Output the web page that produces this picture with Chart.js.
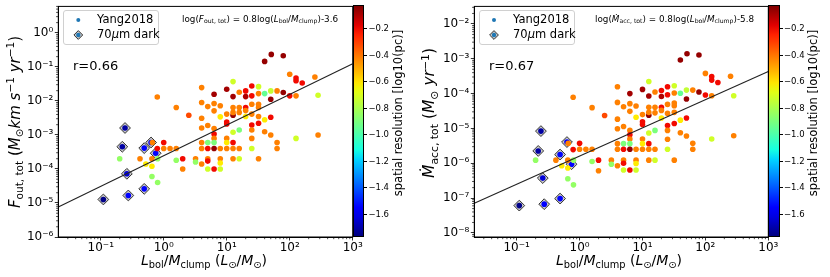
<!DOCTYPE html>
<html>
<head>
<meta charset="utf-8">
<script src="https://cdn.jsdelivr.net/npm/chart.js@4/dist/chart.umd.min.js"></script>
<style>
body { margin: 0; background: #fff; font-family: 'DejaVu Sans', sans-serif; }
#wrap { position: relative; width: 830px; height: 277px; overflow: hidden; }
canvas { position: absolute; top: 0; }
.t { position: absolute; white-space: nowrap; color: #000; line-height: 1; }
.mid { transform: translateY(-50%); }
.ctr { transform: translate(-50%, -50%); }
.rot { transform: translate(-50%, -50%) rotate(-90deg); }
sub { font-size: 0.7em; vertical-align: -0.3em; line-height: 0; }
sup { font-size: 0.7em; vertical-align: 0.5em; line-height: 0; }
.legend { position: absolute; box-sizing: border-box; border: 1px solid #d0d0d0; border-radius: 3px; background: rgba(255,255,255,0.85); }
.cbar { position: absolute; box-sizing: border-box; border: 0.8px solid #000; }
.cbtick { position: absolute; width: 3px; height: 0; border-top: 0.8px solid #000; }
.cblab { position: absolute; font-size: 8.5px; line-height: 1; transform: translateY(-50%); }
svg { position: absolute; left: 0; top: 0; pointer-events: none; }
</style>
</head>
<body>
<div id="wrap">
  <canvas id="left" width="415" height="277" style="left:0;width:415px;height:277px"></canvas>
  <canvas id="right" width="415" height="277" style="left:415px;width:415px;height:277px"></canvas>

  <!-- legends -->
  <div class="legend" style="left:63px;top:10px;width:96px;height:35px"></div>
  <div class="legend" style="left:479px;top:10px;width:96px;height:35px"></div>
  <svg width="830" height="277">
    <circle cx="78.3" cy="20" r="2" fill="#1f77b4"/>
    <polygon points="78.3,30.6 82.7,35 78.3,39.4 73.9,35" fill="#c8c8c8" stroke="#333" stroke-width="1"/>
    <circle cx="78.3" cy="35" r="2.2" fill="#1f77b4"/>
    <circle cx="494" cy="20" r="2" fill="#1f77b4"/>
    <polygon points="494,30.6 498.4,35 494,39.4 489.6,35" fill="#c8c8c8" stroke="#333" stroke-width="1"/>
    <circle cx="494" cy="35" r="2.2" fill="#1f77b4"/>
  </svg>
  <div class="t mid" style="left:97px;top:20px;font-size:11.5px">Yang2018</div>
  <div class="t mid" style="left:97px;top:35px;font-size:11.5px">70<i>μ</i>m dark</div>
  <div class="t mid" style="left:513px;top:20px;font-size:11.5px">Yang2018</div>
  <div class="t mid" style="left:513px;top:35px;font-size:11.5px">70<i>μ</i>m dark</div>

  <!-- fit equations and correlation -->
  <div class="t mid" style="left:182px;top:19px;font-size:8.8px">log(<i>F</i><sub>out, tot</sub>) = 0.8log(<i>L</i><sub>bol</sub>/<i>M</i><sub>clump</sub>)-3.6</div>
  <div class="t mid" style="left:595px;top:19px;font-size:8.8px">log(<i>Ṁ</i><sub>acc, tot</sub>) = 0.8log(<i>L</i><sub>bol</sub>/<i>M</i><sub>clump</sub>)-5.8</div>
  <div class="t mid" style="left:73px;top:65px;font-size:13px">r=0.66</div>
  <div class="t mid" style="left:489px;top:65px;font-size:13px">r=0.67</div>

  <!-- axis titles -->
  <div class="t rot" style="left:15px;top:122px;font-size:15px"><i>F</i><sub>out, tot</sub> (<i>M</i><sub>⊙</sub><i>km s</i><sup>−1</sup> <i>yr</i><sup>−1</sup>)</div>
  <div class="t rot" style="left:430px;top:113px;font-size:15.5px"><i>Ṁ</i><sub>acc, tot</sub> (<i>M</i><sub>⊙</sub> <i>yr</i><sup>−1</sup>)</div>
  <div class="t ctr" style="left:204px;top:260px;font-size:14px"><i>L</i><sub>bol</sub>/<i>M</i><sub>clump</sub> (<i>L</i><sub>⊙</sub>/<i>M</i><sub>⊙</sub>)</div>
  <div class="t ctr" style="left:619px;top:260px;font-size:14px"><i>L</i><sub>bol</sub>/<i>M</i><sub>clump</sub> (<i>L</i><sub>⊙</sub>/<i>M</i><sub>⊙</sub>)</div>
  <div class="t rot" style="left:399px;top:113px;font-size:11.5px">spatial resolution [log10(pc)]</div>
  <div class="t rot" style="left:814px;top:113px;font-size:11.5px">spatial resolution [log10(pc)]</div>
</div>

<script>
// L_bol/M_clump of each clump (shared by both panels)
const lumRatio = [
  51, 79, 40, 100, 126, 126, 158, 251, 282, 100,
  126, 79, 12.6, 15.8, 20, 20, 25, 25, 32, 32,
  40, 50, 63, 50, 10, 6.3, 12.6, 4.0, 0.79, 1.58,
  2.5, 4.0, 6.3, 5.0, 7.9, 6.3, 7.9, 12.6, 15.8, 20,
  20, 25, 32, 32, 32, 10, 12.6, 12.6, 15.8, 20,
  25, 40, 50, 4.0, 10, 10, 25, 32, 5.0, 6.3,
  4.0, 15.8, 12.6, 25, 40, 50, 10, 6.3, 6.3, 12.6,
  5.0, 6.3, 4.0, 10, 25, 126, 282, 63, 63, 25,
  1.0, 0.66, 0.79, 1.0, 1.26, 1.58, 4.0, 5.0, 6.3, 7.9,
  10, 12.6, 15.8, 2.0, 1.58, 3.2, 3.2, 4.0, 5.0, 5.0,
  7.9, 7.9, 12.6, 15.8, 32, 2.0, 5.0, 6.3, 7.9, 0.2,
  0.42, 0.52, 0.65, 0.65, 0.8, 0.65, 0.8
];
// F_out,tot (Msun km/s/yr)
const outflowRate = [
  0.233, 0.213, 0.145, 0.0605, 0.047, 0.039, 0.0337, 0.0506, 0.0147, 0.0141,
  0.0141, 0.0176, 0.0369, 0.018, 0.0197, 0.0134, 0.0275, 0.0141, 0.0263, 0.0164,
  0.0164, 0.0197, 0.0197, 0.0112, 0.022, 0.0157, 0.0134, 0.0246, 0.0131, 0.0064,
  0.0038, 0.009, 0.0084, 0.0068, 0.0072, 0.0051, 0.0034, 0.0064, 0.0064, 0.0064,
  0.0052, 0.008, 0.008, 0.0064, 0.0035, 0.0041, 0.0038, 0.0046, 0.0046, 0.0035,
  0.0041, 0.0028, 0.0033, 0.0031, 0.0024, 0.0021, 0.00195, 0.0022, 0.0019, 0.00155,
  0.0016, 0.0014, 0.0012, 0.0014, 0.00124, 0.001, 0.00079, 0.00106, 0.00079, 0.0006,
  0.0006, 0.0006, 0.0006, 0.0006, 0.00079, 0.00079, 0.001, 0.0006, 0.0004, 0.0004,
  0.0006, 0.0006, 0.0004, 0.0004, 0.0004, 0.0004, 0.0004, 0.0004, 0.0004, 0.0004,
  0.0004, 0.0004, 0.0004, 0.0002, 0.00018, 0.0002, 0.00016, 0.00014, 0.0002, 0.00017,
  0.0002, 0.00015, 0.0002, 0.0002, 0.0002, 0.0001, 0.0001, 0.0001, 0.0001, 0.0002,
  0.0002, 0.00014, 0.0002, 0.00012, 0.0002, 0.00006, 0.00004
];
// Mdot_acc,tot (Msun/yr)
const accretionRate = [
  1.4e-3, 1.28e-3, 9.2e-4, 3.8e-4, 3.1e-4, 2.44e-4, 2.09e-4, 3.16e-4, 8.7e-5, 9.1e-5,
  8.7e-5, 1.11e-4, 2.23e-4, 1.11e-4, 1.23e-4, 8.3e-5, 1.57e-4, 9.3e-5, 1.68e-4, 1.04e-4,
  1.02e-4, 1.26e-4, 1.26e-4, 7.0e-5, 1.32e-4, 1.0e-4, 8.5e-5, 1.57e-4, 7.9e-5, 3.96e-5,
  2.35e-5, 5.6e-5, 5.15e-5, 4.2e-5, 4.4e-5, 3.1e-5, 2.1e-5, 4.05e-5, 4.05e-5, 4.05e-5,
  3.3e-5, 4.9e-5, 5.4e-5, 4.5e-5, 2.9e-5, 2.5e-5, 2.4e-5, 2.9e-5, 2.8e-5, 2.0e-5,
  2.7e-5, 1.73e-5, 2.0e-5, 1.85e-5, 1.55e-5, 1.3e-5, 1.22e-5, 1.39e-5, 1.14e-5, 8.8e-6,
  9.8e-6, 8.8e-6, 7.4e-6, 8.8e-6, 7.5e-6, 6.05e-6, 5.0e-6, 6.6e-6, 5.0e-6, 3.66e-6,
  3.66e-6, 3.66e-6, 3.66e-6, 3.66e-6, 4.9e-6, 5.0e-6, 6.2e-6, 3.74e-6, 2.52e-6, 2.52e-6,
  3.74e-6, 3.74e-6, 2.47e-6, 2.52e-6, 2.52e-6, 2.52e-6, 2.52e-6, 2.52e-6, 2.52e-6, 2.52e-6,
  2.52e-6, 2.52e-6, 2.52e-6, 1.23e-6, 1.12e-6, 1.23e-6, 9.4e-7, 8.5e-7, 1.23e-6, 1.0e-6,
  1.23e-6, 9.9e-7, 1.23e-6, 1.23e-6, 1.23e-6, 6.1e-7, 6.4e-7, 6.4e-7, 6.4e-7, 1.23e-6,
  1.23e-6, 8.5e-7, 1.23e-6, 7.3e-7, 1.23e-6, 3.6e-7, 2.4e-7
];
// spatial resolution, log10(pc)
const resolution = [
  -0.06, -0.06, -0.06, -0.42, -0.2, -0.2, -0.2, -0.42, -0.72, -0.2,
  -0.42, -0.06, -0.72, -0.42, -0.2, -0.1, -0.2, -0.2, -0.72, -0.42,
  -0.95, -0.75, -0.42, -0.06, -0.08, -0.08, -0.08, -0.42, -0.42, -0.42,
  -0.32, -0.42, -0.42, -0.42, -0.42, -0.42, -0.62, -0.42, -0.42, -0.2,
  -0.42, -0.42, -0.42, -0.42, -0.42, -0.42, -0.06, -0.42, -0.42, -0.62,
  -0.42, -0.62, -0.2, -0.42, -0.2, -0.2, -0.2, -0.2, -0.42, -0.42,
  -0.42, -0.9, -0.72, -0.42, -0.42, -0.42, -0.42, -0.2, -0.42, -0.2,
  -0.9, -0.9, -0.42, -0.62, -0.42, -0.72, -0.42, -0.42, -0.42, -0.72,
  -0.2, -0.42, -0.2, -0.42, -0.42, -0.42, -0.42, -0.2, -0.06, -0.42,
  -0.42, -0.42, -0.42, -0.2, -0.85, -0.42, -0.85, -0.42, -0.42, -0.2,
  -0.42, -0.62, -0.42, -0.72, -0.42, -0.42, -0.72, -0.2, -0.72, -0.85,
  -0.42, -0.62, -0.42, -0.62, -0.85, -0.85, -0.85
];

// 70um dark clumps
const darkRatio = [0.11, 0.243, 0.22, 0.26, 0.274, 0.49, 0.49, 0.63, 0.745];
const darkOutflow = [1.27e-5, 1.6e-3, 4.5e-4, 7.2e-5, 1.66e-5, 4.1e-4, 2.6e-5, 6.0e-4, 2.9e-4];
const darkAccretion = [6.1e-8, 8.4e-6, 2.26e-6, 3.76e-7, 6.7e-8, 1.78e-6, 9.7e-8, 4.07e-6, 9.4e-7];
const darkRes = [-1.76, -1.72, -1.72, -1.64, -1.56, -1.55, -1.58, -1.55, -1.55];

// fitted relations (end points)
const fitRatio = [0.0212, 1000];
const fitOutflow = [7.6e-6, 0.124];
const fitAccretion = [7.1e-8, 4.3e-4];

// axis ticks
const xTicks = [0.1, 1, 10, 100, 1000];
const outflowTicks = [1e-6, 1e-5, 1e-4, 1e-3, 1e-2, 1e-1, 1];
const accretionTicks = [1e-8, 1e-7, 1e-6, 1e-5, 1e-4, 1e-3, 1e-2];
const resTicks = [-0.2, -0.4, -0.6, -0.8, -1.0, -1.2, -1.4, -1.6];
const resMin = -1.773, resMax = -0.027;

// matplotlib 'jet'
const JET = {
  r: [[0, 0], [0.35, 0], [0.66, 1], [0.89, 1], [1, 0.5]],
  g: [[0, 0], [0.125, 0], [0.375, 1], [0.64, 1], [0.91, 0], [1, 0]],
  b: [[0, 0.5], [0.11, 1], [0.34, 1], [0.65, 0], [1, 0]]
};
function seg(pts, t) {
  for (let i = 1; i < pts.length; i++) {
    if (t <= pts[i][0]) {
      const [x0, y0] = pts[i - 1], [x1, y1] = pts[i];
      return y0 + (y1 - y0) * (t - x0) / (x1 - x0);
    }
  }
  return pts[pts.length - 1][1];
}
function jetAt(t) {
  t = Math.max(0, Math.min(1, t));
  return 'rgb(' + ['r', 'g', 'b'].map(k => Math.round(255 * seg(JET[k], t))).join(',') + ')';
}
function jet(v) { return jetAt((v - resMin) / (resMax - resMin)); }

const SUP = { '-': '⁻', '0': '⁰', '1': '¹', '2': '²', '3': '³', '4': '⁴', '5': '⁵', '6': '⁶', '7': '⁷', '8': '⁸', '9': '⁹' };
function powLabel(v) {
  const e = Math.round(Math.log10(v));
  return '10' + String(e).split('').map(c => SUP[c]).join('');
}

// frame round the plot and matplotlib-like minor ticks
const axesDecor = {
  id: 'axesDecor',
  afterDraw(chart) {
    const { ctx, chartArea: a, scales } = chart;
    ctx.save();
    ctx.strokeStyle = '#000';
    ctx.lineWidth = 0.7;
    ctx.beginPath();
    Object.values(scales).forEach(sc => {
      const e0 = Math.floor(Math.log10(sc.min)), e1 = Math.ceil(Math.log10(sc.max));
      for (let e = e0; e <= e1; e++) {
        for (let m = 2; m < 10; m++) {
          const v = m * Math.pow(10, e);
          if (v < sc.min || v > sc.max) continue;
          const p = sc.getPixelForValue(v);
          if (sc.isHorizontal()) { ctx.moveTo(p, a.bottom); ctx.lineTo(p, a.bottom + 2.2); }
          else { ctx.moveTo(a.left, p); ctx.lineTo(a.left - 2.2, p); }
        }
      }
    });
    ctx.stroke();
    ctx.lineWidth = 1;
    ctx.strokeRect(a.left, a.top, a.right - a.left, a.bottom - a.top);
    ctx.restore();
  }
};

const font = { family: 'DejaVu Sans', size: 12 };

function logAxis(min, max, ticks, horizontal, size) {
  return {
    type: 'logarithmic',
    min: min, max: max, bounds: 'data',
    afterBuildTicks: s => { s.ticks = ticks.map(v => ({ value: v, major: true })); },
    afterFit: s => {
      if (horizontal) { s.height = size; s.paddingLeft = 0; s.paddingRight = 0; }
      else { s.width = size; s.paddingTop = 0; s.paddingBottom = 0; }
    },
    ticks: { callback: v => powLabel(v), font: font, color: '#000', padding: horizontal ? 0 : 1.5, autoSkip: false, maxRotation: 0 },
    grid: { drawOnChartArea: false, tickLength: 3.5, color: '#000', lineWidth: 0.8 },
    border: { color: '#000', width: 1 }
  };
}

function points(xs, ys) { return xs.map((x, i) => ({ x: x, y: ys[i] })); }

function makePanel(id, ys, darkYs, fitYs, yMin, yMax, yTicks, yWidth, rightPad) {
  new Chart(document.getElementById(id), {
    type: 'scatter',
    data: {
      datasets: [
        {
          label: 'fit', data: points(fitRatio, fitYs), showLine: true,
          borderColor: '#222', borderWidth: 1.1, pointRadius: 0, order: 0
        },
        {
          label: 'Yang2018', data: points(lumRatio, ys),
          pointBackgroundColor: resolution.map(jet), pointBorderWidth: 0, pointRadius: 2.8, order: 1
        },
        {
          label: 'dark dots', data: points(darkRatio, darkYs),
          pointBackgroundColor: darkRes.map(jet), pointBorderWidth: 0, pointRadius: 2.8, order: 2
        },
        {
          label: '70um dark', data: points(darkRatio, darkYs), pointStyle: 'rectRot',
          pointBackgroundColor: '#c8c8c8', pointBorderColor: '#333', pointBorderWidth: 1, pointRadius: 5.4, order: 3
        }
      ]
    },
    options: {
      responsive: false,
      devicePixelRatio: 1,
      animation: false,
      events: [],
      layout: { padding: { top: 5, right: rightPad, bottom: 0, left: 0 } },
      plugins: { legend: { display: false }, tooltip: { enabled: false } },
      scales: {
        x: logAxis(fitRatio[0], fitRatio[1], xTicks, true, 40),
        y: logAxis(yMin, yMax, yTicks, false, yWidth)
      }
    },
    plugins: [axesDecor]
  });
}

makePanel('left', outflowRate, darkOutflow, fitOutflow, 1e-6, 6.0, outflowTicks, 58.3, 62.3);
makePanel('right', accretionRate, darkAccretion, fitAccretion, 7.65e-9, 0.0319, accretionTicks, 59.3, 61.7);

// colour bars
function colorbar(left) {
  const wrap = document.getElementById('wrap');
  const top = 5, height = 232, width = 11.7;
  const stops = [];
  for (let i = 0; i <= 24; i++) stops.push(jetAt(i / 24) + ' ' + (i / 24 * 100).toFixed(1) + '%');
  const bar = document.createElement('div');
  bar.className = 'cbar';
  bar.style.cssText = `left:${left}px;top:${top}px;width:${width}px;height:${height}px;background:linear-gradient(to top, ${stops.join(',')})`;
  wrap.appendChild(bar);
  resTicks.forEach(v => {
    const y = top + (resMax - v) / (resMax - resMin) * height;
    const tk = document.createElement('div');
    tk.className = 'cbtick';
    tk.style.left = (left + width) + 'px';
    tk.style.top = y + 'px';
    wrap.appendChild(tk);
    const lb = document.createElement('div');
    lb.className = 'cblab';
    lb.style.left = (left + width + 4) + 'px';
    lb.style.top = y + 'px';
    lb.textContent = '−' + Math.abs(v).toFixed(1);
    wrap.appendChild(lb);
  });
}
colorbar(352.7);
colorbar(768.3);
</script>
</body>
</html>
